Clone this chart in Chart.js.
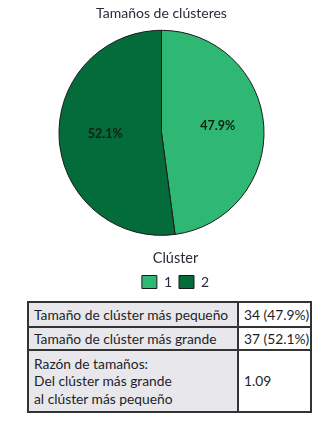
<!DOCTYPE html>
<html>
<head>
<meta charset="utf-8">
<script src="https://cdn.jsdelivr.net/npm/chart.js@4.4.1/dist/chart.umd.min.js"></script>
<style>
    html, body { margin: 0; padding: 0; background: #fff; }
    body { width: 323px; height: 424px; position: relative; font-family: Lato, "Open Sans", sans-serif; }
    #wrap { position: absolute; left: 0; top: 0; width: 323px; height: 299px; }
    #stats {
        position: absolute; left: 27px; top: 301px; width: 285px;
        border-collapse: collapse; border: 2px solid #333; table-layout: fixed;
        font-size: 13.8px; color: #1e1e2a;
    }
    #stats td { border: 2px solid #333; padding: 0 5px; vertical-align: middle; line-height: 17.5px; white-space: nowrap; }
    #stats td.k { background: #e8e8ec; width: 198px; }
    #stats td.v { background: #fff; }
</style>
</head>
<body>
<div id="wrap"><canvas id="pieChart"></canvas></div>
<table id="stats"></table>
<script>
// 데이터
const clusters = ['1', '2'];
const counts = [34, 37];
const colors = ['#2fb873', '#046b3b'];

const total = counts.reduce((a, b) => a + b, 0);
const pct = (v) => (v / total * 100).toFixed(1) + '%';

// 표 채우기
const minIdx = counts.indexOf(Math.min(...counts));
const maxIdx = counts.indexOf(Math.max(...counts));
const rows = [
    ['Tamaño de clúster más pequeño', `${counts[minIdx]} (${pct(counts[minIdx])})`, 25],
    ['Tamaño de clúster más grande', `${counts[maxIdx]} (${pct(counts[maxIdx])})`, 23],
    ['Razón de tamaños:<br>Del clúster más grande<br>al clúster más pequeño',
        (counts[maxIdx] / counts[minIdx]).toFixed(2), 62],
];
document.getElementById('stats').innerHTML = rows.map(r =>
    `<tr style="height:${r[2]}px"><td class="k">${r[0]}</td><td class="v">${r[1]}</td></tr>`
).join('');

// 조각 안에 퍼센트 표시
const sliceLabels = {
    id: 'sliceLabels',
    afterDatasetsDraw(chart) {
        const {ctx} = chart;
        chart.getDatasetMeta(0).data.forEach((arc, i) => {
            const mid = (arc.startAngle + arc.endAngle) / 2;
            const r = arc.outerRadius * 0.55;
            ctx.save();
            ctx.font = 'bold 12.5px Lato, sans-serif';
            ctx.fillStyle = '#142014';
            ctx.textAlign = 'center';
            ctx.textBaseline = 'middle';
            ctx.fillText(pct(counts[i]), arc.x + Math.cos(mid) * r, arc.y + Math.sin(mid) * r - 3);
            ctx.restore();
        });
    }
};

// 범례를 오른쪽으로 조금 이동
const legendShift = {
    id: 'legendShift',
    afterLayout(chart) {
        chart.legend.left += 14;
        chart.legend.right += 14;
    }
};

new Chart(document.getElementById('pieChart'), {
    type: 'pie',
    data: {
        labels: clusters,
        datasets: [{
            data: counts,
            backgroundColor: colors,
            borderColor: '#1a1a1a',
            borderWidth: 1,
        }],
    },
    plugins: [sliceLabels, legendShift],
    options: {
        responsive: true,
        maintainAspectRatio: false,
        animation: false,
        layout: {padding: 0},
        plugins: {
            tooltip: {enabled: false},
            title: {
                display: true,
                text: 'Tamaños de clústeres',
                color: '#2a2a3a',
                font: {family: 'Lato', size: 14, weight: 'normal'},
                padding: {top: 5, bottom: 8},
            },
            legend: {
                position: 'bottom',
                title: {
                    display: true,
                    text: 'Clúster',
                    color: '#2a2a3a',
                    font: {family: 'Lato', size: 14.5},
                    padding: {top: 14.75, bottom: 0},
                },
                labels: {
                    boxWidth: 15,
                    boxHeight: 13,
                    padding: 7,
                    color: '#2a2a3a',
                    font: {family: 'Lato', size: 14},
                },
            },
        },
    },
});
</script>
</body>
</html>
